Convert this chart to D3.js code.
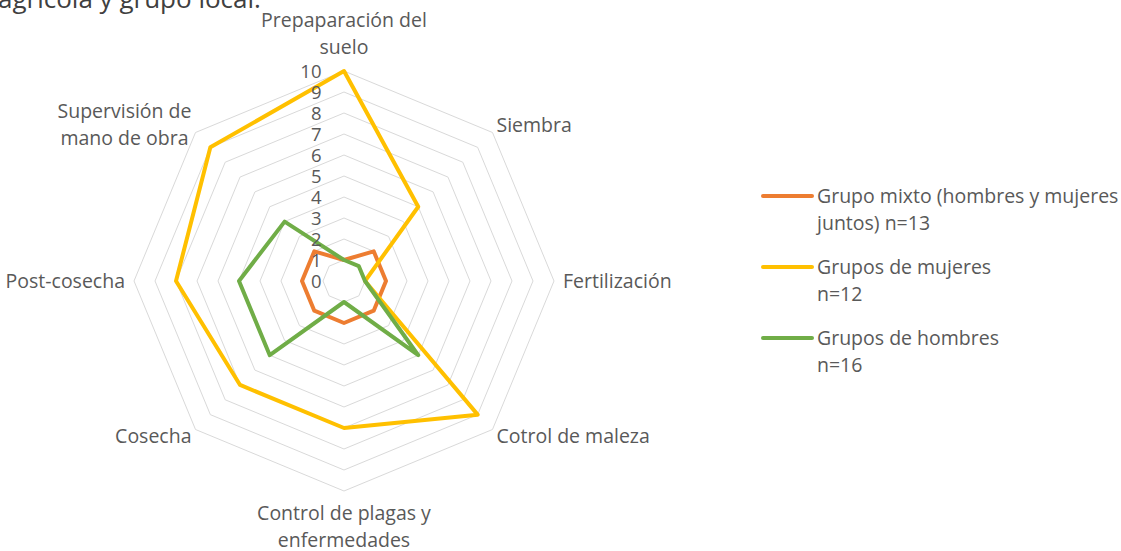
<!DOCTYPE html>
<html>
<head>
<meta charset="utf-8">
<script src="https://cdn.jsdelivr.net/npm/d3@7"></script>
<style>
  body { margin: 0; background: #fff; }
  svg { display: block; font-family: "Open Sans", sans-serif; }
</style>
</head>
<body>
<div id="chart"></div>
<script>
// datos del gráfico
const categorias = [
  ["Prepaparación del", "suelo"],
  ["Siembra"],
  ["Fertilización"],
  ["Cotrol de maleza"],
  ["Control de plagas y", "enfermedades"],
  ["Cosecha"],
  ["Post-cosecha"],
  ["Supervisión de", "mano de obra"]
];
const series = [
  { nombre: ["Grupo mixto (hombres y mujeres", "juntos) n=13"], color: "#ED7D31" },
  { nombre: ["Grupos de mujeres", "n=12"], color: "#FFC000" },
  { nombre: ["Grupos de hombres", "n=16"], color: "#70AD47" }
];
const valoresMixto = [1, 2, 2, 2, 2, 2, 2, 2];
const valoresMujeres = [10, 5, 1, 9, 7, 7, 8, 9];
const valoresHombres = [1, 1, 1, 5, 1, 5, 5, 4];
const ticks = [0, 1, 2, 3, 4, 5, 6, 7, 8, 9, 10];

const width = 1121, height = 551;
const cx = 344, cy = 281, radio = 210;
const fuente = 19.5;

const svg = d3.select("#chart").append("svg")
  .attr("width", width)
  .attr("height", height);

// título cortado arriba
svg.append("text")
  .attr("x", -2).attr("y", 8)
  .attr("font-size", 26)
  .attr("fill", "#404040")
  .text("agrícola y grupo local.");

const r = d3.scaleLinear().domain([0, 10]).range([0, radio]);
const angulo = i => i * 2 * Math.PI / categorias.length;
const punto = (i, v) => [cx + r(v) * Math.sin(angulo(i)), cy - r(v) * Math.cos(angulo(i))];

const g = svg.append("g");

// anillos de la rejilla
ticks.slice(1).forEach(t => {
  g.append("path")
    .attr("d", d3.line()(categorias.map((c, i) => punto(i, t))) + "Z")
    .attr("fill", "none")
    .attr("stroke", "#D9D9D9")
    .attr("stroke-width", 1);
});

// series
[valoresMixto, valoresMujeres, valoresHombres].forEach((vals, k) => {
  g.append("path")
    .attr("d", d3.line()(vals.map((v, i) => punto(i, v))) + "Z")
    .attr("fill", "none")
    .attr("stroke", series[k].color)
    .attr("stroke-width", 4)
    .attr("stroke-linejoin", "round");
});

// etiquetas del eje
ticks.forEach(t => {
  svg.append("text")
    .attr("x", cx - 22.5).attr("y", cy - r(t))
    .attr("dy", "0.36em")
    .attr("text-anchor", "end")
    .attr("font-size", 18.5)
    .attr("fill", "#595959")
    .text(t);
});

// etiquetas de categorías
const lineH = 27;
categorias.forEach((lineas, i) => {
  const a = angulo(i);
  const [px, py] = punto(i, 10);
  const s = Math.sin(a), c = Math.cos(a);
  const n = lineas.length;
  const t = svg.append("text")
    .attr("text-anchor", "middle")
    .attr("font-size", fuente)
    .attr("fill", "#595959");
  const tspans = lineas.map(l => t.append("tspan").text(l));
  const anchoMax = d3.max(tspans, sp => sp.node().getComputedTextLength());

  let x, yCentro;
  if (Math.abs(s) < 0.01) {
    x = px;
    if (c > 0) yCentro = py - 24 - (n - 1) * lineH / 2;
    else yCentro = py + 22 + (n - 1) * lineH / 2;
  } else {
    const diag = Math.abs(c) > 0.1;
    const sep = diag ? 4 : 9;
    x = s > 0 ? px + sep + anchoMax / 2 : px - sep - anchoMax / 2;
    yCentro = py + (diag ? (c > 0 ? -8 : 6) : 0);
  }
  const y0 = yCentro - (n - 1) * lineH / 2;
  tspans.forEach((sp, j) => sp.attr("x", x).attr("y", y0 + j * lineH).attr("dy", "0.36em"));
});

// leyenda
const leyenda = svg.append("g").attr("transform", "translate(763,196)");
series.forEach((s, k) => {
  const gy = k * 71;
  leyenda.append("line")
    .attr("x1", 0).attr("x2", 49).attr("y1", gy).attr("y2", gy)
    .attr("stroke", s.color).attr("stroke-width", 4).attr("stroke-linecap", "round");
  const t = leyenda.append("text")
    .attr("font-size", fuente)
    .attr("fill", "#595959");
  s.nombre.forEach((l, j) => {
    t.append("tspan").attr("x", 54).attr("y", gy + j * 27).attr("dy", "0.36em").text(l);
  });
});
</script>
</body>
</html>
